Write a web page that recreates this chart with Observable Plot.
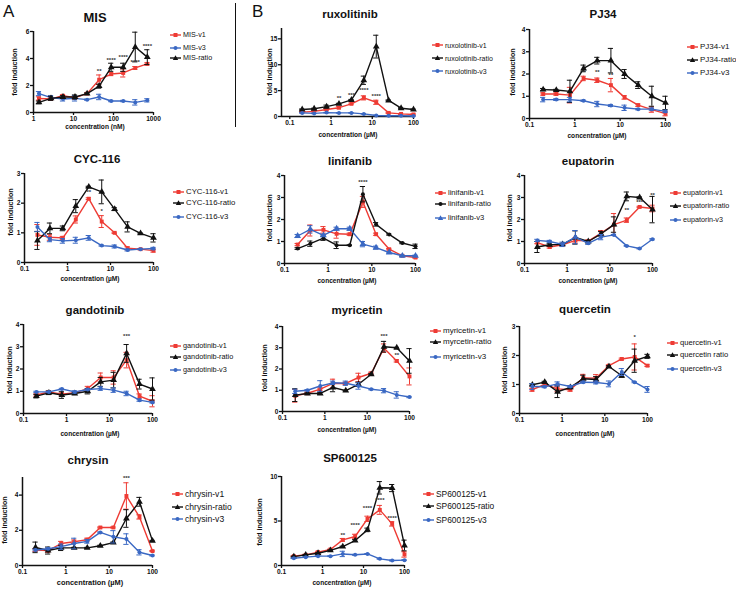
<!DOCTYPE html>
<html><head><meta charset="utf-8">
<script src="https://cdn.jsdelivr.net/npm/d3@7"></script>
<script src="https://cdn.jsdelivr.net/npm/@observablehq/plot@0.6"></script>
<style>
body{margin:0;background:#fff;font-family:"Liberation Sans",Arial,sans-serif;}
#root{position:relative;width:736px;height:589px;overflow:hidden;background:#fff;}
.abs{position:absolute;white-space:nowrap;line-height:1;}
.title{font-weight:bold;font-size:11.5px;transform:translate(-50%,-50%);color:#111;}
.xlab{font-weight:bold;font-size:6.6px;transform:translate(-50%,-50%);color:#111;}
.ylab{font-weight:bold;font-size:7.2px;transform:translate(-50%,-50%) rotate(-90deg);color:#111;}
.leg{display:flex;align-items:center;gap:2px;font-size:7.4px;height:10px;color:#111;}
.big{font-size:17px;color:#111;}
</style></head><body><div id="root"></div>
<script>
// ---------- data ----------
const conc = [0.2,0.39,0.78,1.56,3.125,6.25,12.5,25,50,100];
const concMIS = [1.37,2.74,5.47,10.9,21.9,43.8,87.5,175,350,700];

const misV1 = [1.04,1.0,1.24,1.1,1.4,2.43,2.85,2.93,3.3,3.6];
const misV1Err = [0.12,0.1,0.08,0.1,0.05,0.35,0.12,0.3,0.1,0.08];
const misV3 = [1.4,1.1,1.0,1.05,0.95,1.15,0.85,0.85,0.75,0.9];
const misV3Err = [0.15,0.15,0.15,0.2,0.04,0.2,0.05,0.05,0.2,0.12];
const misRatio = [0.75,1.05,1.15,1.15,1.4,1.95,3.35,3.35,4.85,4.1];
const misRatioErr = [0.1,0.15,0.1,0.15,0.05,0.15,0.3,0.3,1.1,0.55];

const ruxV1 = [0.85,1.0,1.35,1.7,2.45,3.6,2.75,0.7,0.5,0.4];
const ruxV1Err = [0.1,0.1,0.15,0.2,0.15,0.4,0.4,0.1,0.1,0.1];
const ruxRatio = [1.35,1.5,1.9,2.45,3.2,7.0,13.5,3.1,1.6,1.35];
const ruxRatioErr = [0.1,0.1,0.3,0.1,0.1,0.8,2.2,0.1,0.1,0.1];
const ruxV3 = [0.7,0.6,0.75,0.7,0.7,0.5,0.2,0.15,0.15,0.1];
const ruxV3Err = [0.05,0.05,0.05,0.05,0.05,0.05,0.05,0.05,0.05,0.05];

const pjV1 = [1.1,1.1,1.05,1.8,1.72,1.5,0.95,0.6,0.4,0.22];
const pjV1Err = [0.05,0.05,0.35,0.1,0.1,0.3,0.08,0.05,0.12,0.1];
const pjRatio = [1.3,1.28,1.22,2.25,2.6,2.6,2.0,1.5,1.0,0.7];
const pjRatioErr = [0.05,0.03,0.5,0.15,0.15,0.55,0.2,0.15,0.45,0.3];
const pjV3 = [0.85,0.85,0.85,0.8,0.65,0.58,0.48,0.42,0.42,0.32];
const pjV3Err = [0.1,0.04,0.1,0.03,0.12,0.04,0.12,0.03,0.05,0.05];

const cycV1 = [0.93,0.85,0.83,1.45,2.15,1.38,1.0,0.48,0.45,0.4];
const cycV1Err = [0.35,0.1,0.05,0.12,0.03,0.2,0.02,0.05,0.02,0.05];
const cycRatio = [0.74,1.15,1.15,1.9,2.55,2.38,1.8,1.2,0.98,0.83];
const cycRatioErr = [0.3,0.18,0.08,0.22,0.02,0.4,0.05,0.17,0.02,0.14];
const cycV3 = [1.2,0.77,0.73,0.75,0.83,0.57,0.54,0.42,0.45,0.47];
const cycV3Err = [0.15,0.07,0.08,0.1,0.08,0.02,0.05,0.03,0.02,0.04];

const linV1 = [0.86,1.5,1.53,1.35,1.33,2.8,1.33,0.65,0.35,0.27];
const linV1Err = [0.05,0.25,0.15,0.2,0.05,0.25,0.05,0.03,0.03,0.03];
const linRatio = [0.68,0.9,1.15,0.83,0.83,3.15,1.78,1.32,0.93,0.78];
const linRatioErr = [0.04,0.12,0.1,0.15,0.02,0.35,0.08,0.03,0.03,0.1];
const linV3 = [1.25,1.55,1.28,1.58,1.58,0.88,0.72,0.5,0.35,0.35];
const linV3Err = [0.07,0.17,0.05,0.07,0.07,0.12,0.07,0.03,0.03,0.03];

const eupV1 = [0.95,0.75,0.85,1.05,1.02,1.38,1.77,1.97,2.57,2.5];
const eupV1Err = [0.05,0.05,0.05,0.12,0.05,0.12,0.5,0.1,0.03,0.15];
const eupRatio = [0.75,0.85,0.87,1.18,1.0,1.35,1.77,3.05,3.0,2.45];
const eupRatioErr = [0.25,0.05,0.05,0.3,0.05,0.1,0.35,0.2,0.03,0.6];
const eupV3 = [1.05,1.0,0.87,1.2,0.92,1.2,1.3,0.8,0.68,1.1];
const eupV3Err = [0.05,0.05,0.1,0.3,0.05,0.12,0.02,0.02,0.02,0.03];

const ganV1 = [0.83,0.97,0.87,0.93,1.12,1.62,1.62,2.4,0.78,0.55];
const ganV1Err = [0.05,0.05,0.05,0.05,0.1,0.2,0.3,0.35,0.1,0.25];
const ganRatio = [0.78,0.93,0.83,0.9,1.0,1.42,1.5,2.7,1.32,1.1];
const ganRatioErr = [0.08,0.08,0.15,0.05,0.12,0.2,0.35,0.4,0.22,0.5];
const ganV3 = [0.97,0.97,1.1,0.97,1.08,1.12,1.05,0.9,0.6,0.5];
const ganV3Err = [0.03,0.03,0.03,0.05,0.03,0.08,0.1,0.1,0.05,0.03];

const myrV1 = [0.74,0.86,1.05,1.32,1.32,1.6,1.8,2.98,2.38,1.65];
const myrV1Err = [0.3,0.05,0.05,0.2,0.05,0.2,0.05,0.2,0.05,0.4];
const myrRatio = [0.77,0.85,0.85,1.13,0.98,1.28,1.75,3.05,3.0,2.38];
const myrRatioErr = [0.3,0.03,0.05,0.2,0.02,0.1,0.03,0.25,0.02,0.58];
const myrV3 = [0.95,1.0,1.2,1.35,1.33,1.2,1.05,0.98,0.78,0.68];
const myrV3Err = [0.1,0.03,0.25,0.08,0.1,0.15,0.03,0.1,0.15,0.03];

const queV1 = [0.82,1.0,0.85,0.82,1.23,1.22,1.65,1.88,1.95,1.65];
const queV1Err = [0.05,0.03,0.1,0.05,0.12,0.12,0.03,0.03,0.45,0.03];
const queRatio = [0.99,1.08,0.75,0.9,1.2,1.17,1.62,1.3,1.82,1.97];
const queRatioErr = [0.03,0.03,0.2,0.05,0.12,0.1,0.03,0.05,0.4,0.07];
const queV3 = [0.93,0.92,1.02,0.93,1.08,1.07,1.02,1.43,1.08,0.83];
const queV3Err = [0.1,0.03,0.07,0.03,0.03,0.05,0.1,0.12,0.02,0.1];

const chrV1 = [0.88,0.85,1.25,1.35,1.47,2.16,2.16,3.95,2.76,0.82];
const chrV1Err = [0.08,0.1,0.12,0.1,0.08,0.03,0.03,0.75,0.12,0.03];
const chrRatio = [1.03,0.85,1.0,1.0,1.0,1.12,1.3,2.67,3.62,1.4];
const chrRatioErr = [0.3,0.2,0.15,0.03,0.03,0.03,0.03,0.5,0.25,0.03];
const chrV3 = [0.88,0.95,1.07,1.25,1.37,1.88,1.63,1.5,0.75,0.57];
const chrV3Err = [0.05,0.05,0.15,0.3,0.1,0.03,0.35,0.3,0.15,0.03];

const spV1 = [1.05,1.2,1.5,1.8,2.88,3.26,5.24,6.25,4.68,1.24];
const spV1Err = [0.05,0.05,0.1,0.05,0.15,0.25,0.3,0.5,0.25,0.3];
const spRatio = [1.0,1.2,1.38,1.7,2.13,2.8,4.0,8.73,8.7,2.25];
const spRatioErr = [0.05,0.05,0.05,0.05,0.05,0.1,0.2,0.7,0.4,0.6];
const spV3 = [0.82,0.94,1.05,1.05,1.3,1.2,1.3,0.75,0.56,0.6];
const spV3Err = [0.05,0.05,0.05,0.05,0.3,0.05,0.05,0.05,0.05,0.05];

// significance marks
const misStars = [{x:43.8,y:3.05,t:"**"},{x:87.5,y:3.9,t:"****"},{x:175,y:4.1,t:"****"},{x:350,y:3.75,t:"****"},{x:700,y:4.95,t:"****"}];
const ruxStars = [{x:1.56,y:3.6,t:"**"},{x:3.125,y:4.1,t:"***"},{x:6.25,y:5.2,t:"****"},{x:12.5,y:3.9,t:"****"}];
const pjStars = [{x:1.56,y:2.08,t:"**"},{x:3.125,y:2.08,t:"**"},{x:6.25,y:1.93,t:"**"}];
const cycStars = [{x:3.125,y:2.38,t:"**"},{x:6.25,y:1.73,t:"*"}];
const linStars = [{x:6.25,y:3.7,t:"****"}];
const eupStars = [{x:25,y:2.45,t:"**"},{x:50,y:2.8,t:"***"},{x:100,y:3.1,t:"**"}];
const ganStars = [{x:25,y:3.48,t:"***"}];
const myrStars = [{x:25,y:3.56,t:"***"},{x:50,y:2.67,t:"**"}];
const queStars = [{x:50,y:2.62,t:"*"}];
const chrStars = [{x:25,y:4.98,t:"***"}];
const spStars = [{x:3.125,y:3.45,t:"**"},{x:6.25,y:4.57,t:"****"},{x:12.5,y:6.48,t:"****"},{x:25,y:7.4,t:"****"},{x:50,y:5.35,t:"****"}];

const xTicksUM = [0.1,1,10,100];
const xTicksNM = [1,10,100,1000];

// ---------- style ----------
const RED = "#ee3b34", BLUE = "#3a68c3", BLACK = "#111111";
const S = {
  v1: (name, v, e) => ({name, v, e, color: RED, symbol: "square", r: 2.2}),
  ratio: (name, v, e, sym) => ({name, v, e, color: BLACK, symbol: sym || "triangle", r: sym === "circle" ? 2 : 2.5}),
  v3: (name, v, e, sym) => ({name, v, e, color: BLUE, symbol: sym || "circle", r: sym === "triangle" ? 2.5 : 2})
};

const panels = [
  {title:"MIS", tsize:13, x:concMIS, xDomain:[1,1000], xTicks:xTicksNM, yDomain:[0,6], yTicks:[0,2,4,6],
   px:{x0:33,x1:153,yT:31,yB:112}, t:[95,17], xl:[95,127,"concentration (nM)"], yl:[15,72], leg:[170,[35,48,58]], lfs:7.2,
   series:[S.v1("MIS-v1",misV1,misV1Err), S.v3("MIS-v3",misV3,misV3Err), S.ratio("MIS-ratio",misRatio,misRatioErr)], stars:misStars},
  {title:"ruxolitinib", x:conc, xDomain:[0.063,100], xTicks:xTicksUM, yDomain:[0,17], yTicks:[0,5,10,15],
   px:{x0:281,x1:413,yT:28,yB:116}, t:[350,15], xl:[348,135,"concentration (µM)"], yl:[270,72], leg:[432,[45,58,71]], lfs:7,
   series:[S.v1("ruxolotinib-v1",ruxV1,ruxV1Err), S.ratio("ruxolotinib-ratio",ruxRatio,ruxRatioErr), S.v3("ruxolotinib-v3",ruxV3,ruxV3Err)], stars:ruxStars},
  {title:"PJ34", x:conc, xDomain:[0.1,100], xTicks:xTicksUM, yDomain:[0,4], yTicks:[0,1,2,3,4],
   px:{x0:529,x1:665,yT:29,yB:118}, t:[603,15], xl:[597,136,"concentration (µM)"], yl:[513,72], leg:[687,[47,60,73]], lfs:8,
   series:[S.v1("PJ34-v1",pjV1,pjV1Err), S.ratio("PJ34-ratio",pjRatio,pjRatioErr), S.v3("PJ34-v3",pjV3,pjV3Err)], stars:pjStars},
  {title:"CYC-116", x:conc, xDomain:[0.1,100], xTicks:xTicksUM, yDomain:[0,3], yTicks:[0,1,2,3],
   px:{x0:24,x1:153,yT:173,yB:262}, t:[97,160], xl:[90,279,"concentration (µM)"], yl:[11,212], leg:[173,[192,203,217]], lfs:7.8,
   series:[S.v1("CYC-116-v1",cycV1,cycV1Err), S.ratio("CYC-116-ratio",cycRatio,cycRatioErr), S.v3("CYC-116-v3",cycV3,cycV3Err)], stars:cycStars},
  {title:"linifanib", x:conc, xDomain:[0.1,100], xTicks:xTicksUM, yDomain:[0,4], yTicks:[0,1,2,3,4],
   px:{x0:284,x1:415,yT:175,yB:263}, t:[350,162], xl:[347,281,"concentration (µM)"], yl:[270,218], leg:[435,[193,204,218]], lfs:7.6,
   series:[S.v1("linifanib-v1",linV1,linV1Err), S.ratio("linifanib-ratio",linRatio,linRatioErr,"circle"), S.v3("linifanib-v3",linV3,linV3Err,"triangle")], stars:linStars},
  {title:"eupatorin", x:conc, xDomain:[0.1,100], xTicks:xTicksUM, yDomain:[0,4], yTicks:[0,1,2,3,4],
   px:{x0:524,x1:652,yT:175,yB:263}, t:[588,162], xl:[588,281,"concentration (µM)"], yl:[510,218], leg:[670,[193,206,220]], lfs:7.2,
   series:[S.v1("eupatorin-v1",eupV1,eupV1Err), S.ratio("eupatorin-ratio",eupRatio,eupRatioErr), S.v3("eupatorin-v3",eupV3,eupV3Err)], stars:eupStars},
  {title:"gandotinib", x:conc, xDomain:[0.1,100], xTicks:xTicksUM, yDomain:[0,4], yTicks:[0,1,2,3,4],
   px:{x0:23,x1:152,yT:324,yB:413}, t:[95,311], xl:[90,434,"concentration (µM)"], yl:[10,370], leg:[170,[346,357,370]], lfs:7.3,
   series:[S.v1("gandotinib-v1",ganV1,ganV1Err), S.ratio("gandotinib-ratio",ganRatio,ganRatioErr), S.v3("gandotinib-v3",ganV3,ganV3Err)], stars:ganStars},
  {title:"myricetin", x:conc, xDomain:[0.1,100], xTicks:xTicksUM, yDomain:[0,4], yTicks:[0,1,2,3,4],
   px:{x0:282,x1:409,yT:326,yB:411}, t:[357,311], xl:[347,430,"concentration (µM)"], yl:[265,368], leg:[430,[331,342,357]], lfs:8,
   series:[S.v1("myricetin-v1",myrV1,myrV1Err), S.ratio("myrcetin-ratio",myrRatio,myrRatioErr), S.v3("myricetin-v3",myrV3,myrV3Err)], stars:myrStars},
  {title:"quercetin", x:conc, xDomain:[0.1,100], xTicks:xTicksUM, yDomain:[0,3], yTicks:[0,1,2,3],
   px:{x0:519,x1:647,yT:326,yB:413}, t:[585,310], xl:[585,434,"concentration (µM)"], yl:[505,370], leg:[667,[343,355,369]], lfs:7.6,
   series:[S.v1("quercetin-v1",queV1,queV1Err), S.ratio("quercetin ratio",queRatio,queRatioErr), S.v3("quercetin-v3",queV3,queV3Err)], stars:queStars},
  {title:"chrysin", x:conc, xDomain:[0.1,100], xTicks:xTicksUM, yDomain:[0,5], yTicks:[0,2,4],
   px:{x0:22,x1:152,yT:477,yB:565}, t:[88,461], xl:[90,583,"concentration (µM)"], yl:[5,520], leg:[172,[494,507,519]], lfs:8.6, xfs:7.4,
   series:[S.v1("chrysin-v1",chrV1,chrV1Err), S.ratio("chrysin-ratio",chrRatio,chrRatioErr), S.v3("chrysin-v3",chrV3,chrV3Err)], stars:chrStars},
  {title:"SP600125", x:conc, xDomain:[0.1,100], xTicks:xTicksUM, yDomain:[0,10], yTicks:[0,5,10],
   px:{x0:281,x1:404,yT:476,yB:565}, t:[350,459], xl:[342,583,"concentration (µM)"], yl:[260,522], leg:[423,[494,506,520]], lfs:8.4,
   series:[S.v1("SP600125-v1",spV1,spV1Err), S.ratio("SP600125-ratio",spRatio,spRatioErr), S.v3("SP600125-v3",spV3,spV3Err)], stars:spStars}
];

// ---------- drawing ----------
const root = document.getElementById("root");
function addDiv(cls, x, y, html, extra) {
  const d = document.createElement("div");
  d.className = "abs " + cls;
  d.style.left = x + "px"; d.style.top = y + "px";
  d.innerHTML = html;
  if (extra) Object.assign(d.style, extra);
  root.appendChild(d);
  return d;
}
function symSvg(sym, color) {
  let m;
  if (sym === "square") m = `<rect x="3.5" y="3" width="4" height="4" fill="${color}"/>`;
  else if (sym === "triangle") m = `<polygon points="5.5,2.3 8.2,7 2.8,7" fill="${color}"/>`;
  else m = `<circle cx="5.5" cy="5" r="2" fill="${color}"/>`;
  return `<svg width="11" height="10" style="display:block;flex:none"><line x1="0" y1="5" x2="11" y2="5" stroke="${color}" stroke-width="1.4"/>${m}</svg>`;
}

function drawPanel(c) {
  const mL = 24, mR = 8, mT = 6, mB = 14;
  const w = c.px.x1 - c.px.x0, h = c.px.yB - c.px.yT;
  const decade = w / Math.log10(c.xDomain[1] / c.xDomain[0]);
  const capF = Math.pow(10, 2.6 / decade);
  const marks = [
    Plot.axisX({ticks: c.xTicks, tickFormat: d => String(d), tickSize: 3, tickPadding: 1, label: null, strokeWidth: 1.3}),
    Plot.axisY({ticks: c.yTicks, tickFormat: d => String(d), tickSize: 3, tickPadding: 1, label: null, strokeWidth: 1.3}),
    Plot.ruleX([c.xDomain[0]], {stroke: BLACK, strokeWidth: 1.5}),
    Plot.ruleY([c.yDomain[0]], {stroke: BLACK, strokeWidth: 1.5})
  ];
  for (const s of c.series) {
    const rows = c.x.map((x, i) => ({x, y: s.v[i], e: s.e[i]}));
    const er = rows.filter(r => r.e > 0);
    marks.push(Plot.ruleX(er, {x: "x", y1: r => r.y - r.e, y2: r => r.y + r.e, stroke: s.color, strokeWidth: 1}));
    marks.push(Plot.ruleY(er, {y: r => r.y + r.e, x1: r => r.x / capF, x2: r => r.x * capF, stroke: s.color, strokeWidth: 1}));
    marks.push(Plot.ruleY(er, {y: r => r.y - r.e, x1: r => r.x / capF, x2: r => r.x * capF, stroke: s.color, strokeWidth: 1}));
    marks.push(Plot.line(rows, {x: "x", y: "y", stroke: s.color, strokeWidth: 1.4}));
    marks.push(Plot.dot(rows, {x: "x", y: "y", symbol: s.symbol, fill: s.color, stroke: "none", r: s.r}));
  }
  marks.push(Plot.text(c.stars, {x: "x", y: "y", text: "t", fontSize: 6, fill: "#333", fontWeight: "bold"}));
  const svg = Plot.plot({
    width: w + mL + mR, height: h + mT + mB,
    marginLeft: mL, marginRight: mR, marginTop: mT, marginBottom: mB,
    x: {type: "log", domain: c.xDomain},
    y: {domain: c.yDomain},
    style: {fontFamily: "Liberation Sans, Arial, sans-serif", fontSize: "6.6px", fontWeight: "bold", background: "transparent", overflow: "visible", color: BLACK},
    marks
  });
  svg.style.position = "absolute";
  svg.style.left = (c.px.x0 - mL) + "px";
  svg.style.top = (c.px.yT - mT) + "px";
  root.appendChild(svg);

  addDiv("title", c.t[0], c.t[1], c.title, c.tsize ? {fontSize: c.tsize + "px"} : null);
  addDiv("xlab", c.xl[0], c.xl[1], c.xl[2], c.xfs ? {fontSize: c.xfs + "px"} : null);
  addDiv("ylab", c.yl[0], c.yl[1], "fold induction");
  c.series.forEach((s, i) => {
    addDiv("leg", c.leg[0], c.leg[1][i] - 5, symSvg(s.symbol, s.color) + `<span>${s.name}</span>`, {fontSize: c.lfs + "px"});
  });
}

panels.forEach(drawPanel);
addDiv("big", 3, 3, "A");
addDiv("big", 252, 3, "B");
const sep = document.createElement("div");
Object.assign(sep.style, {position: "absolute", left: "235px", top: "3px", width: "1px", height: "124px", background: "#111"});
root.appendChild(sep);
</script></body></html>
